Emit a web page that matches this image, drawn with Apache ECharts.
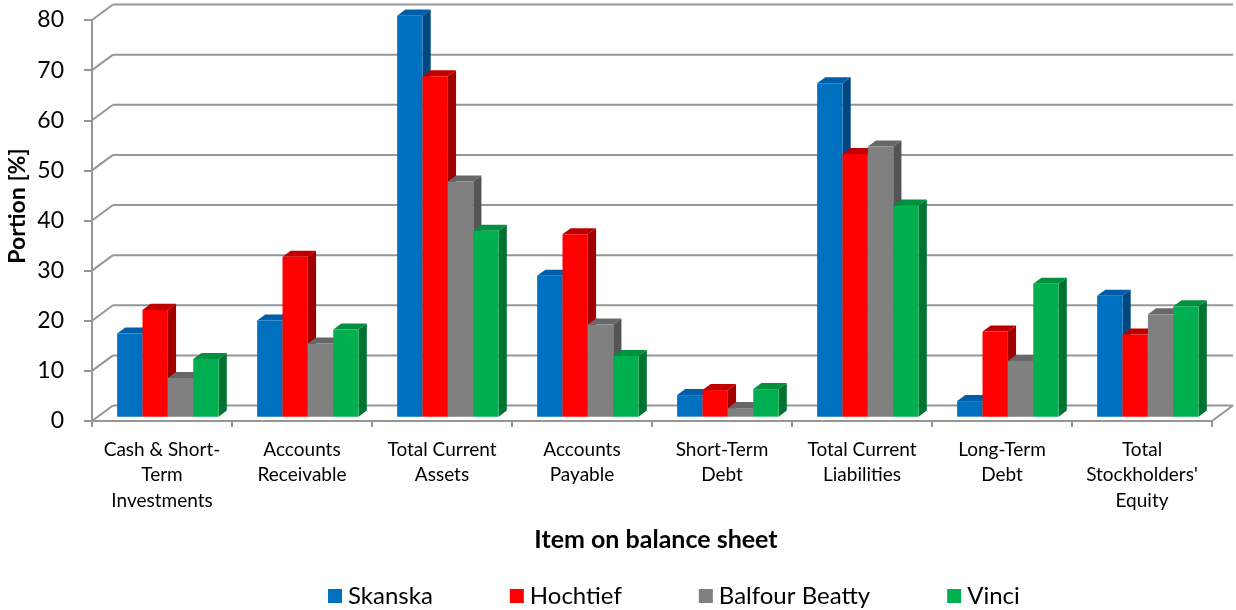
<!DOCTYPE html>
<html>
<head>
<meta charset="utf-8">
<script src="https://cdn.jsdelivr.net/npm/echarts@6/dist/echarts.min.js"></script>
<style>
  html, body { margin: 0; padding: 0; background: #ffffff; }
  #chart { width: 1236px; height: 610px; }
</style>
</head>
<body>
<div id="chart"></div>
<script>
// ---- Data ----
const categories = [
  'Cash & Short-\nTerm\nInvestments',
  'Accounts\nReceivable',
  'Total Current\nAssets',
  'Accounts\nPayable',
  'Short-Term\nDebt',
  'Total Current\nLiabilities',
  'Long-Term\nDebt',
  "Total\nStockholders'\nEquity"
];
const seriesNames = ['Skanska', 'Hochtief', 'Balfour Beatty', 'Vinci'];
const skanska  = [16.6, 19.2, 80.0, 28.1, 4.3, 66.5, 3.1, 24.1];
const hochtief = [21.3, 31.9, 67.9, 36.4, 5.3, 52.4, 17.0, 16.4];
const balfour  = [7.7, 14.6, 46.9, 18.4, 1.7, 53.9, 11.1, 20.4];
const vinci    = [11.5, 17.4, 37.1, 12.1, 5.5, 42.1, 26.5, 22.0];
const yTicks   = [0, 10, 20, 30, 40, 50, 60, 70, 80];
const yAxisTitle = 'Portion [%]';
const xAxisTitle = 'Item on balance sheet';

// ---- Style ----
const FONT = 'Lato, "Open Sans", sans-serif';
const DX = 21, DY = 15.5;          // 3D depth projection of the floor
const FRONT_D = 0.28, BAR_D = 0.39; // bar placement within depth
const BAR_FRAC = 0.1812;            // bar width as fraction of category band
const GRID_COLOR = '#969696';
const palette = [
  { front: '#0070C0', top: '#005DA8', side: '#00487F' },
  { front: '#FF0000', top: '#C00000', side: '#A00000' },
  { front: '#808080', top: '#676767', side: '#545454' },
  { front: '#00B050', top: '#00913F', side: '#007332' }
];
const allValues = [skanska, hochtief, balfour, vinci];

function barSeries(idx) {
  const c = palette[idx];
  return {
    type: 'custom',
    name: seriesNames[idx],
    z: 10 + idx,
    itemStyle: { color: c.front },
    data: allValues[idx].map((v, i) => [i, v]),
    renderItem: function (params, api) {
      const ci = api.value(0), v = api.value(1);
      const base = api.coord([ci, 0]);
      const top = api.coord([ci, v]);
      const band = api.size([1, 0])[0];
      const bw = band * BAR_FRAC;
      const fx = DX * FRONT_D, fy = DY * FRONT_D;
      const sx = DX * BAR_D, sy = DY * BAR_D;
      const x0 = base[0] + fx + (idx - 2) * bw;
      const yb = base[1] - fy, yt = top[1] - fy;
      const x1 = x0 + bw;
      return {
        type: 'group',
        children: [
          { type: 'polygon', shape: { points: [[x1, yb], [x1 + sx, yb - sy], [x1 + sx, yt - sy], [x1, yt]] },
            style: { fill: c.side } },
          { type: 'polygon', shape: { points: [[x0, yt], [x0 + sx, yt - sy], [x1 + sx, yt - sy], [x1, yt]] },
            style: { fill: c.top } },
          { type: 'rect', shape: { x: x0, y: yt, width: bw, height: yb - yt },
            style: { fill: c.front } }
        ]
      };
    }
  };
}

const wallSeries = {
  type: 'custom',
  name: 'wall',
  z: 1,
  silent: true,
  data: yTicks.map(v => [0, v]),
  renderItem: function (params, api) {
    const cs = params.coordSys;
    const v = api.value(1);
    const y = api.coord([0, v])[1];
    const xl = cs.x, xr = cs.x + cs.width;
    const st = { stroke: GRID_COLOR, lineWidth: 2 };
    const children = [
      { type: 'line', shape: { x1: xl, y1: y, x2: xl + DX, y2: y - DY }, style: st },
      { type: 'line', shape: { x1: xl + DX, y1: y - DY, x2: xr + DX, y2: y - DY }, style: st }
    ];
    if (v === 0) {
      children.push({ type: 'line', shape: { x1: xr, y1: y, x2: xr + DX, y2: y - DY }, style: st });
    }
    return { type: 'group', children: children };
  }
};

const chart = echarts.init(document.getElementById('chart'), null, { renderer: 'canvas' });
chart.setOption({
  animation: false,
  backgroundColor: '#ffffff',
  textStyle: { fontFamily: FONT },
  grid: { left: 92, right: 24, top: 20, bottom: 189, containLabel: false },
  xAxis: {
    type: 'category',
    data: categories,
    boundaryGap: true,
    axisLine: { show: true, lineStyle: { color: GRID_COLOR, width: 2 } },
    axisTick: { show: true, length: 6, alignWithLabel: false, lineStyle: { color: GRID_COLOR, width: 2 } },
    axisLabel: { interval: 0, margin: 16, color: '#000', fontSize: 19, lineHeight: 25.5, fontFamily: FONT },
    splitLine: { show: false }
  },
  yAxis: {
    type: 'value',
    min: 0, max: 80, interval: 10,
    axisLine: { show: true, lineStyle: { color: GRID_COLOR, width: 2 } },
    axisTick: { show: true, length: 8, lineStyle: { color: GRID_COLOR, width: 2 } },
    axisLabel: { margin: 28, color: '#000', fontSize: 23, fontFamily: FONT },
    splitLine: { show: false }
  },
  legend: {
    data: seriesNames,
    left: 328, top: 584,
    icon: 'rect', itemWidth: 14, itemHeight: 14, itemGap: 77,
    padding: 0,
    textStyle: { fontSize: 24, color: '#000', fontFamily: FONT, padding: [0, 0, 0, 1] }
  },
  graphic: [
    { type: 'text', x: 18, y: 206, rotation: Math.PI / 2,
      style: { text: yAxisTitle, fontSize: 23, fontWeight: 'bold', fill: '#000', fontFamily: FONT,
               align: 'center', verticalAlign: 'middle' } },
    { type: 'text', x: 656, y: 540,
      style: { text: xAxisTitle, fontSize: 25, fontWeight: 'bold', fill: '#000', fontFamily: FONT,
               align: 'center', verticalAlign: 'middle' } }
  ],
  series: [wallSeries, barSeries(0), barSeries(1), barSeries(2), barSeries(3)]
});
</script>
</body>
</html>
